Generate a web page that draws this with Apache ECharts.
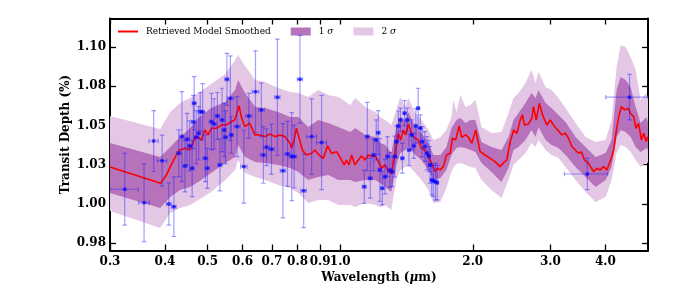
<!DOCTYPE html>
<html><head><meta charset="utf-8">
<script src="https://cdn.jsdelivr.net/npm/echarts@6/dist/echarts.min.js"></script>
<style>html,body{margin:0;padding:0;background:#fff}#c{width:681px;height:303px}</style>
</head><body><div id="c"></div>
<script>
const xTicks = [0.3,0.4,0.5,0.6,0.7,0.8,0.9,1.0,2.0,3.0,4.0];
const yTicks = [0.975,1.0,1.025,1.05,1.075,1.1];

const modelWl = [0.300,0.391,0.403,0.413,0.4245,0.432,0.444,0.455,0.463,0.469,
0.4755,0.484,0.4926,0.501,0.510,0.5236,0.537,0.551,0.566,0.576,
0.589,0.596,0.607,0.623,0.640,0.657,0.674,0.692,0.711,0.730,
0.749,0.769,0.775,0.786,0.795,0.805,0.820,0.838,0.861,0.876,
0.895,0.915,0.936,0.956,0.981,1.007,1.021,1.033,1.047,1.061,
1.080,1.099,1.118,1.138,1.158,1.178,1.195,1.210,1.231,1.241,
1.264,1.286,1.308,1.320,1.336,1.355,1.372,1.391,1.408,1.428,
1.453,1.479,1.503,1.529,1.556,1.586,1.613,1.642,1.664,1.686,
1.714,1.744,1.777,1.798,1.830,1.862,1.888,1.927,1.955,1.989,
2.031,2.078,2.133,2.190,2.247,2.307,2.347,2.389,2.433,2.476,
2.519,2.563,2.594,2.620,2.676,2.724,2.748,2.787,2.832,2.880,
2.947,3.000,3.067,3.120,3.186,3.243,3.300,3.358,3.418,3.478,
3.530,3.587,3.663,3.760,3.826,3.894,3.963,4.032,4.127,4.178,
4.228,4.290,4.350,4.427,4.500,4.560,4.640,4.695,4.760,4.830,
4.890,4.950,5.000];
const modelVal = [1.0236,1.0132,1.0185,1.0249,1.0312,1.0344,1.0355,1.0344,1.0387,1.0429,
1.0425,1.0408,1.0471,1.0440,1.0482,1.0482,1.0503,1.0503,1.0524,1.0535,
1.0626,1.0556,1.0493,1.0514,1.0440,1.0440,1.0429,1.0446,1.0429,1.0440,
1.0429,1.0387,1.0355,1.0408,1.0482,1.0429,1.0344,1.0312,1.0323,1.0344,
1.0312,1.0291,1.0370,1.0323,1.0333,1.0280,1.0249,1.0280,1.0249,1.0312,
1.0249,1.0280,1.0306,1.0280,1.0312,1.0302,1.0312,1.0291,1.0249,1.0228,
1.0249,1.0206,1.0196,1.0206,1.0344,1.0450,1.0408,1.0471,1.0440,1.0510,
1.0440,1.0419,1.0408,1.0355,1.0344,1.0302,1.0260,1.0206,1.0228,1.0217,
1.0238,1.0312,1.0323,1.0419,1.0408,1.0497,1.0425,1.0440,1.0425,1.0387,
1.0471,1.0333,1.0312,1.0291,1.0270,1.0238,1.0263,1.0280,1.0397,1.0471,
1.0450,1.0535,1.0567,1.0503,1.0510,1.0546,1.0620,1.0535,1.0641,1.0567,
1.0503,1.0535,1.0493,1.0471,1.0440,1.0450,1.0419,1.0366,1.0344,1.0323,
1.0333,1.0280,1.0260,1.0206,1.0228,1.0217,1.0238,1.0217,1.0291,1.0344,
1.0450,1.0556,1.0620,1.0599,1.0610,1.0578,1.0556,1.0482,1.0514,1.0408,
1.0450,1.0397,1.0429];

const bandWl = [0.300,0.390,0.411,0.433,0.456,0.476,0.509,0.548,0.577,0.586,
0.608,0.641,0.675,0.723,0.770,0.803,0.846,0.891,0.939,0.990,
1.054,1.082,1.140,1.201,1.233,1.266,1.306,1.341,1.369,1.406,
1.428,1.481,1.529,1.586,1.628,1.689,1.742,1.789,1.807,1.836,
1.875,1.925,1.976,2.028,2.093,2.205,2.324,2.411,2.474,2.540,
2.635,2.719,2.776,2.820,2.926,3.019,3.132,3.249,3.424,3.608,
3.801,4.006,4.133,4.243,4.333,4.448,4.566,4.687,4.811,4.965,
5.000];
const sig2Hi = [1.0561,1.0478,1.0586,1.0643,1.0675,1.0707,1.0764,1.0828,1.0917,1.0949,
1.0879,1.0790,1.0777,1.0739,1.0713,1.0707,1.0682,1.0726,1.0694,1.0682,
1.0631,1.0675,1.0618,1.0586,1.0554,1.0535,1.0503,1.0599,1.0682,1.0618,
1.0675,1.0580,1.0535,1.0471,1.0408,1.0427,1.0471,1.0554,1.0663,1.0586,
1.0694,1.0618,1.0631,1.0663,1.0490,1.0452,1.0459,1.0580,1.0675,1.0707,
1.0771,1.0854,1.0771,1.0841,1.0745,1.0726,1.0675,1.0611,1.0516,1.0427,
1.0395,1.0408,1.0535,1.0873,1.1013,1.1000,1.0936,1.0854,1.0663,1.0707,
1.0663];
const sig1Hi = [1.0389,1.0299,1.0363,1.0427,1.0484,1.0548,1.0611,1.0650,1.0726,1.0790,
1.0707,1.0618,1.0611,1.0586,1.0554,1.0554,1.0490,1.0535,1.0516,1.0490,
1.0459,1.0484,1.0440,1.0427,1.0389,1.0376,1.0325,1.0490,1.0554,1.0535,
1.0586,1.0490,1.0452,1.0389,1.0312,1.0312,1.0363,1.0484,1.0503,1.0535,
1.0548,1.0516,1.0535,1.0535,1.0395,1.0363,1.0344,1.0427,1.0535,1.0580,
1.0643,1.0707,1.0675,1.0726,1.0643,1.0611,1.0567,1.0522,1.0427,1.0363,
1.0299,1.0325,1.0408,1.0726,1.0809,1.0790,1.0745,1.0618,1.0516,1.0554,
1.0516];
const sig1Lo = [1.0070,0.9975,1.0045,1.0089,1.0108,1.0140,1.0197,1.0261,1.0299,1.0376,
1.0299,1.0268,1.0261,1.0248,1.0229,1.0204,1.0153,1.0172,1.0185,1.0153,
1.0153,1.0140,1.0153,1.0153,1.0134,1.0108,1.0077,1.0248,1.0325,1.0344,
1.0363,1.0312,1.0280,1.0217,1.0153,1.0166,1.0217,1.0312,1.0331,1.0357,
1.0363,1.0357,1.0344,1.0331,1.0261,1.0204,1.0140,1.0229,1.0344,1.0363,
1.0408,1.0471,1.0427,1.0490,1.0408,1.0376,1.0357,1.0312,1.0236,1.0172,
1.0108,1.0153,1.0236,1.0427,1.0471,1.0459,1.0427,1.0363,1.0331,1.0357,
1.0344];
const sig2Lo = [0.9956,0.9847,0.9943,0.9975,0.9994,1.0026,1.0077,1.0153,1.0217,1.0280,
1.0197,1.0172,1.0153,1.0121,1.0102,1.0070,1.0006,1.0026,1.0026,0.9994,
0.9994,0.9981,1.0006,0.9994,0.9981,0.9994,0.9962,1.0153,1.0217,1.0236,
1.0248,1.0197,1.0153,1.0089,1.0006,1.0013,1.0102,1.0204,1.0229,1.0255,
1.0261,1.0248,1.0236,1.0229,1.0153,1.0089,1.0038,1.0153,1.0248,1.0280,
1.0325,1.0389,1.0363,1.0408,1.0344,1.0312,1.0293,1.0236,1.0153,1.0077,
1.0013,1.0045,1.0153,1.0325,1.0376,1.0363,1.0331,1.0280,1.0236,1.0268,
1.0261];

const obsWl = [0.324,0.3585,0.377,0.394,0.408,0.419,0.430,0.437,0.444,0.449,
0.455,0.461,0.464,0.466,0.471,0.477,0.481,0.487,0.494,0.499,
0.510,0.517,0.526,0.533,0.539,0.545,0.549,0.553,0.563,0.566,
0.583,0.604,0.620,0.642,0.662,0.669,0.680,0.698,0.720,0.741,
0.759,0.776,0.786,0.810,0.826,0.861,0.907,1.134,1.152,1.170,
1.190,1.207,1.220,1.230,1.246,1.264,1.280,1.296,1.312,1.330,
1.342,1.355,1.370,1.384,1.400,1.420,1.433,1.453,1.470,1.485,
1.503,1.520,1.535,1.556,1.574,1.590,1.600,1.613,1.627,1.645,
1.660,3.640,4.540];
const obsVal = [1.0094,1.0008,1.0401,1.0276,1.0000,0.9983,1.0323,1.0429,1.0242,1.0412,
1.0370,1.0227,1.0522,1.0641,1.0425,1.0450,1.0588,1.0586,1.0291,1.0227,
1.0524,1.0510,1.0561,1.0249,1.0535,1.0471,1.0425,1.0794,1.0673,1.0440,
1.0493,1.0238,1.0561,1.0715,1.0599,1.0312,1.0361,1.0349,1.0680,1.0212,
1.0319,1.0302,1.0302,1.0794,1.0085,1.0429,1.0391,1.0110,1.0429,1.0164,
1.0312,1.0408,1.0454,1.0217,1.0100,1.0174,1.0302,1.0217,1.0206,1.0302,
1.0397,1.0497,1.0535,1.0291,1.0578,1.0535,1.0344,1.0440,1.0370,1.0497,
1.0610,1.0482,1.0397,1.0366,1.0323,1.0306,1.0249,1.0153,1.0147,1.0142,
1.0136,1.0191,1.0680];
const obsErr = [0.0228,0.0247,0.0194,0.0162,0.0134,0.0190,0.0149,0.0287,0.0165,0.0165,
0.0159,0.0180,0.0170,0.0170,0.0170,0.0170,0.0122,0.0180,0.0149,0.0127,
0.0180,0.0160,0.0149,0.0165,0.0202,0.0170,0.0170,0.0165,0.0270,0.0117,
0.0191,0.0233,0.0143,0.0260,0.0170,0.0180,0.0117,0.0159,0.0370,0.0300,
0.0207,0.0280,0.0200,0.0280,0.0235,0.0240,0.0300,0.0106,0.0218,0.0127,
0.0100,0.0127,0.0140,0.0200,0.0106,0.0110,0.0127,0.0110,0.0095,0.0130,
0.0100,0.0095,0.0075,0.0095,0.0080,0.0075,0.0100,0.0095,0.0080,0.0110,
0.0127,0.0085,0.0095,0.0095,0.0106,0.0100,0.0117,0.0095,0.0100,0.0117,
0.0110,0.0100,0.0145];
const obsXerr = [0.024,0.010,0.009,0.0095,0.005,0.005,0.005,0.005,0.005,0.005,
0.005,0.005,0.005,0.005,0.005,0.005,0.005,0.005,0.006,0.006,
0.006,0.006,0.006,0.006,0.006,0.006,0.006,0.006,0.009,0.006,
0.009,0.010,0.010,0.011,0.010,0.010,0.010,0.010,0.010,0.010,
0.010,0.010,0.010,0.011,0.012,0.022,0.024,0.012,0.012,0.012,
0.012,0.012,0.012,0.012,0.012,0.012,0.012,0.012,0.012,0.012,
0.012,0.012,0.012,0.012,0.012,0.012,0.012,0.012,0.012,0.012,
0.012,0.012,0.012,0.012,0.012,0.012,0.012,0.012,0.012,0.012,
0.012,0.410,0.530];

const FONT = 'DejaVu Serif';
const chart = echarts.init(document.getElementById('c'), null, {renderer:'canvas'});

function bandItem(lo, hi){
  return function(params, api){
    const pts = [];
    for (let i = 0; i < bandWl.length; i++) pts.push(api.coord([bandWl[i], hi[i]]));
    for (let i = bandWl.length - 1; i >= 0; i--) pts.push(api.coord([bandWl[i], lo[i]]));
    return {type:'polygon', shape:{points:pts}, style:{fill:api.visual('color'), stroke:null}};
  };
}
function errItem(params, api){
  const x = api.value(0), y = api.value(1), ye = api.value(2), xe = api.value(3);
  const t = api.coord([x, y + ye]), b = api.coord([x, y - ye]);
  const l = api.coord([x - xe, y]), r = api.coord([x + xe, y]);
  const c = 2.3;
  const st = {stroke:'rgba(30,30,255,0.42)', lineWidth:1.2, fill:null};
  const ln = (x1,y1,x2,y2) => ({type:'line', shape:{x1,y1,x2,y2}, style:st});
  return {type:'group', children:[
    ln(t[0],t[1],b[0],b[1]), ln(t[0]-c,t[1],t[0]+c,t[1]), ln(b[0]-c,b[1],b[0]+c,b[1]),
    ln(l[0],l[1],r[0],r[1]), ln(l[0],l[1]-c,l[0],l[1]+c), ln(r[0],r[1]-c,r[0],r[1]+c)
  ]};
}

const tickStyle = {show:true, inside:true, length:6, lineStyle:{color:'#000', width:1.3}};
const lineStyleAx = {show:true, lineStyle:{color:'#000', width:2}};
const labelStyle = {fontFamily:FONT, fontWeight:'bold', fontSize:12, color:'#000'};

const option = {
  animation:false,
  backgroundColor:'#fff',
  grid:{left:110, right:33, top:18.5, bottom:52.5, outerBoundsMode:'none', containLabel:false},
  legend:{
    left:117, top:27, padding:0, itemWidth:20, itemHeight:8, itemGap:20,
    data:[{name:'Retrieved Model Smoothed', itemStyle:{opacity:0}},{name:'1σ', icon:'rect'},{name:'2σ', icon:'rect'}],
    formatter: n => n === '1σ' ? '1 {i|σ}' : (n === '2σ' ? '2 {i|σ}' : n),
    textStyle:{fontFamily:FONT, fontSize:9, color:'#000', padding:[0,0,0,3],
      rich:{i:{fontFamily:FONT, fontStyle:'italic', fontSize:9, color:'#000'}}}
  },
  xAxis:[{
    type:'log', min:0.3, max:5.0, position:'bottom',
    axisLine:lineStyleAx, splitLine:{show:false}, minorTick:{show:false},
    axisTick:Object.assign({customValues:xTicks}, tickStyle),
    axisLabel:Object.assign({customValues:xTicks, margin:5, formatter:v => Number(v).toFixed(1)}, labelStyle),
    name:'Wavelength ({i|μ}m)', nameLocation:'middle', nameGap:21, nameMoveOverlap:false,
    nameTextStyle:Object.assign({rich:{i:{fontFamily:FONT, fontStyle:'italic', fontWeight:'bold', fontSize:12, color:'#000'}}}, labelStyle)
  },{
    type:'log', min:0.3, max:5.0, position:'top',
    axisLine:lineStyleAx, splitLine:{show:false},
    axisTick:Object.assign({customValues:xTicks}, tickStyle),
    axisLabel:{show:false}
  }],
  yAxis:[{
    type:'value', min:0.9704, max:1.1181, position:'left',
    axisLine:lineStyleAx, splitLine:{show:false},
    axisTick:Object.assign({customValues:yTicks}, tickStyle),
    axisLabel:Object.assign({customValues:yTicks, margin:4, formatter:v => (v + 1e-9).toFixed(2)}, labelStyle),
    name:'Transit Depth (%)', nameLocation:'middle', nameGap:38, nameMoveOverlap:false, nameTextStyle:labelStyle
  },{
    type:'value', min:0.9704, max:1.1181, position:'right',
    axisLine:lineStyleAx, splitLine:{show:false},
    axisTick:Object.assign({customValues:yTicks}, tickStyle),
    axisLabel:{show:false}
  }],
  series:[
    {type:'custom', name:'2σ', renderItem:bandItem(sig2Lo, sig2Hi), data:[[bandWl[0], sig2Lo[0]]],
      encode:{x:0, y:1}, itemStyle:{color:'rgb(228,199,229)'}, z:1, silent:true, clip:true},
    {type:'custom', name:'1σ', renderItem:bandItem(sig1Lo, sig1Hi), data:[[bandWl[0], sig1Lo[0]]],
      encode:{x:0, y:1}, itemStyle:{color:'rgb(182,114,187)'}, z:2, silent:true, clip:true},
    {type:'line', name:'Retrieved Model Smoothed', data:modelWl.map((w,i) => [w, modelVal[i]]),
      symbol:'none', showSymbol:false, lineStyle:{color:'#ff0000', width:1.6}, itemStyle:{color:'#ff0000'}, z:3, silent:true},
    {type:'custom', name:'errors', renderItem:errItem, clip:true,
      data:obsWl.map((w,i) => [w, obsVal[i], obsErr[i], obsXerr[i]]),
      dimensions:['x','y','ye','xe'], encode:{x:0, y:1}, z:4, silent:true},
    {type:'scatter', name:'obs', data:obsWl.map((w,i) => [w, obsVal[i]]),
      symbol:'circle', symbolSize:4, itemStyle:{color:'rgba(0,0,255,0.85)'}, z:5, silent:true}
  ]
};
chart.setOption(option);
</script>
</body></html>
